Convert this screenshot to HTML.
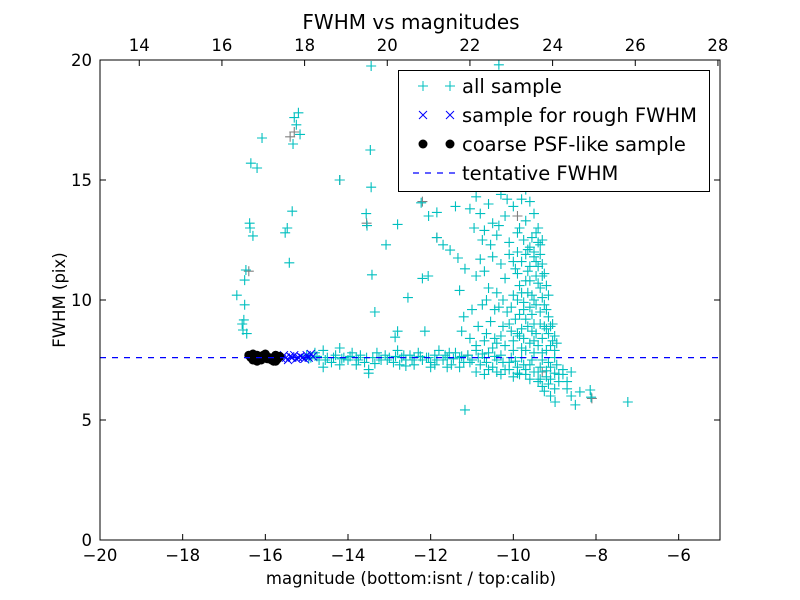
<!DOCTYPE html>
<html><head><meta charset="utf-8"><style>
body{margin:0;background:#fff;}
svg text{font-family:"DejaVu Sans","Liberation Sans",sans-serif;}
</style></head><body>
<svg id="chart" width="800" height="600" xmlns="http://www.w3.org/2000/svg" style="position:absolute;left:0;top:0">
<rect width="800" height="600" fill="#fff"/>
<g id="marks"></g>
<g id="axes"></g>
</svg>
<script>
const xTicks=[-20,-18,-16,-14,-12,-10,-8,-6];
const xTickLabels=["\u221220","\u221218","\u221216","\u221214","\u221212","\u221210","\u22128","\u22126"];
const yTicks=[0,5,10,15,20];
const topTicks=[14,16,18,20,22,24,26,28];
const tentativeFWHM=7.6;
const allSample=[[-16.69,10.2],[-16.52,9.17],[-16.56,9.0],[-16.5,9.8],[-16.5,10.83],[-16.47,11.25],[-16.37,13.0],[-16.38,13.2],[-16.3,12.67],[-16.35,15.7],[-16.2,15.5],[-16.08,16.75],[-16.54,8.75],[-16.45,8.6],
[-15.3,17.6],[-15.2,17.8],[-15.25,17.3],[-15.16,16.9],[-15.33,16.5],[-15.52,12.8],[-15.47,13.0],[-15.35,13.7],[-15.42,11.55],
[-14.2,15.0],[-13.44,19.75],[-13.46,16.25],[-13.44,14.7],[-13.56,13.6],[-13.54,13.1],[-13.42,11.05],[-13.35,9.5],[-13.08,12.3],[-12.8,13.15],[-12.86,8.45],[-12.8,8.7],[-12.55,10.1],[-12.23,14.05],[-12.2,10.9],[-12.06,11.0],[-12.14,8.7],[-12.05,13.5],[-11.85,13.65],[-11.85,12.6],[-11.7,12.3],[-11.53,12.08],[-11.4,13.9],[-11.34,11.75],[-11.3,10.4],[-11.25,8.7],[-11.17,5.42],[-11.2,9.3],[-11.17,11.3],[-11.05,13.8],[-10.95,13.0],[-11.05,8.4],
[-10.9,14.3],[-10.8,13.6],[-10.7,12.9],[-10.6,14.0],[-10.5,13.2],[-10.4,12.7],[-10.3,14.4],[-10.2,13.5],[-10.1,12.4],[-10.0,13.9],[-9.9,12.8],[-9.8,14.2],[-9.7,13.3],[-9.6,12.2],[-9.5,13.6],[-10.45,19.2],[-10.35,19.8],[-10.55,18.7],[-10.2,18.9],[-9.8,19.3],[-9.6,18.5],[-10.6,17.4],[-10.25,17.8],[-9.9,17.5],[-9.7,17.0],[-10.3,16.2],[-10.0,16.0],[-9.55,16.4],[-10.7,15.6],[-10.5,15.2],[-10.1,15.0],[-9.75,15.4],[-9.45,15.1],[-9.8,14.8],
[-10.8,11.7],[-10.7,11.2],[-10.6,10.5],[-10.5,11.8],[-10.4,10.3],[-10.3,11.5],[-10.2,10.9],[-10.1,11.9],[-10.0,10.2],[-9.95,11.3],[-9.9,12.0],[-9.85,10.6],[-9.8,11.6],[-9.75,9.9],[-9.7,10.8],[-9.65,12.1],[-9.6,11.4],[-9.55,10.2],[-9.5,11.8],[-9.45,11.0],[-9.4,12.4],[-9.35,10.5],[-9.3,11.5],[-9.25,9.8],[-9.2,10.6],[-9.15,9.3],[-9.35,9.0],[-9.45,8.6],[-9.55,9.4],[-9.65,8.9],[-9.75,9.6],[-9.85,8.5],[-9.95,9.2],[-10.05,8.7],[-10.15,9.5],[-10.25,8.9],[-10.35,9.7],[-10.45,8.4],[-10.55,9.1],[-10.65,8.6],[-10.75,9.8],[-10.85,8.9],[-11.0,9.6],[-9.3,8.4],[-9.2,8.8],[-9.1,8.1],[-9.05,9.0],[-9.0,8.5],[-9.2,7.9],[-9.4,8.1],[-9.6,8.2],[-9.8,8.0],[-10.0,8.3],[-10.2,8.1],[-10.4,8.2],[-9.35,11.9],[-9.3,12.5],[-9.45,12.8],[-9.25,11.1],[-9.15,10.2],[-9.5,10.0],
[-15.0,7.7],[-14.9,7.6],[-14.8,7.8],[-14.7,7.5],[-14.6,7.9],[-14.5,7.6],[-14.4,7.4],[-14.3,7.7],[-14.2,8.0],[-14.1,7.6],[-14.0,7.5],[-13.9,7.8],[-13.8,7.6],[-13.7,7.7],[-13.6,7.4],[-13.5,7.1],[-13.5,6.95],[-13.4,7.6],[-13.3,7.8],[-13.2,7.5],[-13.1,7.7],[-13.0,7.6],[-12.9,7.4],[-12.8,7.9],[-12.7,7.6],[-12.6,7.5],[-12.5,7.7],[-12.4,7.6],[-12.3,7.8],[-12.2,7.5],[-12.1,7.6],[-12.0,7.4],[-11.9,7.7],[-11.8,7.9],[-11.7,7.5],[-11.6,7.6],[-11.5,7.3],[-11.4,7.8],[-11.3,7.6],[-11.2,7.4],[-11.1,7.7],[-11.0,7.5],[-10.9,7.9],[-10.8,7.3],[-10.7,7.6],[-10.6,7.8],[-10.5,7.2],[-10.4,7.5],[-10.3,7.7],[-10.2,7.1],[-10.1,7.4],[-10.0,7.9],[-9.9,7.2],[-9.8,7.6],[-9.7,6.9],[-9.6,7.3],[-9.5,7.8],[-9.4,7.0],[-9.3,7.5],[-9.2,6.8],[-9.1,7.2],[-9.0,7.6],[-8.9,6.9],[-8.8,7.1],[-10.9,7.0],[-10.6,7.1],[-10.3,6.9],[-10.0,6.8],[-9.85,6.9],[-9.6,6.7],[-9.4,6.6],[-9.3,6.4],[-9.15,6.5],[-11.3,7.2],[-11.9,7.3],[-12.4,7.3],[-14.6,7.2],[-14.2,7.3],[-13.8,7.3],
[-8.99,5.75],[-8.5,5.63],[-8.39,6.17],[-8.6,6.0],[-8.14,6.25],[-8.12,5.95],[-7.23,5.75],[-8.7,6.6],[-8.8,6.9],[-8.6,7.0],[-9.0,6.3],[-9.1,6.0]];
const extraSample=[[-14.95,7.55],[-14.75,7.65],[-14.55,7.5],[-14.35,7.6],[-14.15,7.55],[-13.95,7.65],[-13.75,7.5],[-13.55,7.6],[-13.25,7.6],[-13.05,7.5],[-12.85,7.65],[-12.65,7.7],[-12.45,7.5],[-12.25,7.65],[-12.05,7.6],[-11.85,7.5],[-11.65,7.7],[-11.45,7.55],[-11.25,7.65],[-11.05,7.4],[-10.85,7.6],[-10.65,7.4],[-10.45,7.65],[-10.25,7.4],[-10.05,7.6],[-9.95,7.45],[-9.75,7.3],[-9.55,7.5],[-9.35,7.2],[-9.15,7.4],[-8.95,7.3],[-10.75,7.75],[-11.55,7.8],[-12.75,7.3],[-13.35,7.35],
[-9.9,10.0],[-9.85,9.4],[-9.8,8.8],[-9.75,8.4],[-9.7,9.2],[-9.65,10.3],[-9.6,9.7],[-9.55,8.7],[-9.5,9.0],[-9.45,9.8],[-9.4,10.7],[-9.35,9.5],[-9.3,10.1],[-9.25,8.9],[-9.2,9.6],[-9.15,8.6],[-9.1,8.9],[-9.05,8.3],[-9.0,7.9],[-8.95,8.2],[-9.3,7.8],[-9.5,8.3],[-9.7,7.9],[-9.9,8.6],[-10.1,9.0],[-10.3,8.5],[-10.5,8.0],[-10.7,8.3],[-10.9,8.1],[-9.4,11.4],[-9.5,12.0],[-9.6,10.8],[-9.7,11.9],[-9.8,10.3],[-9.9,11.1],[-10.0,11.6],[-9.3,11.0],[-9.35,12.3],[-9.45,11.6],[-9.55,12.6],[-9.65,11.2],[-9.75,12.5],[-9.85,13.0],[-9.4,13.0],[-9.6,14.1],[-9.7,14.6],[-9.9,15.7],[-10.15,14.2],[-10.35,13.1],[-10.55,12.3],[-10.75,12.5],[-10.9,11.0],[-10.65,10.0],[-10.45,9.6],[-10.25,10.0],[-10.05,9.7],[-9.5,7.0],[-9.7,7.1],[-9.9,6.95],[-9.2,7.05],[-9.0,6.95],[-9.25,6.2],[-9.35,6.7],[-9.1,6.7],[-8.9,6.6],[-8.7,6.3],[-10.1,7.1],[-10.4,7.0],[-10.7,6.9],[-11.6,7.2],[-12.0,7.2],[-12.6,7.25]];
const greySample=[[-16.4,11.2],[-15.3,17.0],[-15.4,16.8],[-13.55,13.2],[-14.2,15.0],[-11.85,12.6],[-12.2,14.1],[-10.5,19.0],[-9.9,13.5],[-8.1,5.9],[-11.1,7.7],[-9.3,7.0]];
const roughX=[-15.8,-15.7,-15.6,-15.55,-15.5,-15.45,-15.4,-15.35,-15.3,-15.25,-15.2,-15.15,-15.1,-15.05,-15.0,-14.95,-14.9,-14.85];
const roughY=[7.6,7.65,7.55,7.7,7.6,7.5,7.65,7.6,7.7,7.55,7.6,7.65,7.6,7.55,7.7,7.6,7.75,7.65];
const psfX=[-16.4,-16.35,-16.3,-16.25,-16.2,-16.15,-16.1,-16.05,-16.0,-15.95,-15.9,-15.85,-15.8,-15.75,-15.7,-15.65,-16.3,-16.2,-16.1,-16.0,-15.75];
const psfY=[7.7,7.6,7.75,7.55,7.7,7.6,7.5,7.7,7.65,7.55,7.6,7.5,7.45,7.7,7.55,7.65,7.5,7.45,7.6,7.75,7.45];

const NS="http://www.w3.org/2000/svg";
const L=100,R=720,T=60,B=540;
const xs=v=>L+(v+20)/15*(R-L);
const ys=v=>B-v/20*(B-T);
const xTop=v=>xs(v-33.05);
const marks=document.getElementById('marks');
const axes=document.getElementById('axes');
function el(tag,attrs,parent){const e=document.createElementNS(NS,tag);for(const k in attrs)e.setAttribute(k,attrs[k]);parent.appendChild(e);return e;}
function plus(x,y,col,p){return el('path',{d:`M${x-5},${y}H${x+5}M${x},${y-5}V${y+5}`,stroke:col,'stroke-width':1.1,fill:'none'},p);}
function cross(x,y,col,p){return el('path',{d:`M${x-4},${y-4}L${x+4},${y+4}M${x-4},${y+4}L${x+4},${y-4}`,stroke:col,'stroke-width':1,fill:'none'},p);}

const clip=el('clipPath',{id:'pc'},marks);el('rect',{x:L,y:T,width:R-L,height:B-T},clip);
const pg=el('g',{'clip-path':'url(#pc)'},marks);
greySample.forEach(d=>{const m=plus(xs(d[0]),ys(d[1]),'#808080',pg);

});
allSample.concat(extraSample).forEach(d=>{const m=plus(xs(d[0]),ys(d[1]),'#00bfbf',pg);

});
roughX.forEach((v,i)=>{const m=cross(xs(v),ys(roughY[i]),'#0000ff',pg);

});
psfX.forEach((v,i)=>{const m=el('circle',{cx:xs(v),cy:ys(psfY[i]),r:4.5,fill:'#000'},pg);

});
const tl=el('line',{x1:L,x2:R,y1:ys(tentativeFWHM),y2:ys(tentativeFWHM),stroke:'#0000ff','stroke-width':1.2,'stroke-dasharray':'6,6'},pg);



el('rect',{x:L,y:T,width:R-L,height:B-T,fill:'none',stroke:'#000','stroke-width':1},axes);
xTicks.forEach((v,i)=>{const x=xs(v);
el('line',{x1:x,x2:x,y1:B,y2:B-6,stroke:'#000'},axes);
const t=el('text',{x:x,y:B+21,'text-anchor':'middle','font-size':16.5},axes);t.textContent=xTickLabels[i];

});
topTicks.forEach(v=>{const x=xTop(v);
el('line',{x1:x,x2:x,y1:T,y2:T+6,stroke:'#000'},axes);
const t=el('text',{x:x,y:T-9,'text-anchor':'middle','font-size':16.5},axes);t.textContent=v;

});
yTicks.forEach(v=>{const y=ys(v);
el('line',{x1:L,x2:L+6,y1:y,y2:y,stroke:'#000'},axes);
el('line',{x1:R,x2:R-6,y1:y,y2:y,stroke:'#000'},axes);
const t=el('text',{x:L-8,y:y+6,'text-anchor':'end','font-size':16.5},axes);t.textContent=v;

});
</script>
<svg style="position:absolute;left:0;top:0" width="800" height="600" xmlns="http://www.w3.org/2000/svg">
<text x="411" y="29" text-anchor="middle" font-size="20">FWHM vs magnitudes</text>
<text x="411" y="584" text-anchor="middle" font-size="16.5">magnitude (bottom:isnt / top:calib)</text>
<text x="0" y="0" transform="translate(65,300) rotate(-90)" text-anchor="middle" font-size="16.5">FWHM (pix)</text>
<g>
<rect x="398.5" y="70.5" width="311" height="121" fill="#fff" stroke="#000"/>
<g>
<path d="M418,86H428M423,81V91M445,86H455M450,81V91" stroke="#00bfbf" fill="none"/>
<text x="462" y="93" font-size="19.5">all sample</text></g>
<g>
<path d="M419,111L427,119M419,119L427,111M446,111L454,119M446,119L454,111" stroke="#0000ff" fill="none"/>
<text x="462" y="122" font-size="19.5">sample for rough FWHM</text></g>
<g>
<circle cx="423" cy="144" r="4.5"/><circle cx="450" cy="144" r="4.5"/>
<text x="462" y="151" font-size="19.5">coarse PSF-like sample</text></g>
<g>
<line x1="413" x2="455" y1="173" y2="173" stroke="#0000ff" stroke-width="1.2" stroke-dasharray="6,6"/>
<text x="462" y="180" font-size="19.5">tentative FWHM</text></g>
</g>
</svg>
</body></html>
